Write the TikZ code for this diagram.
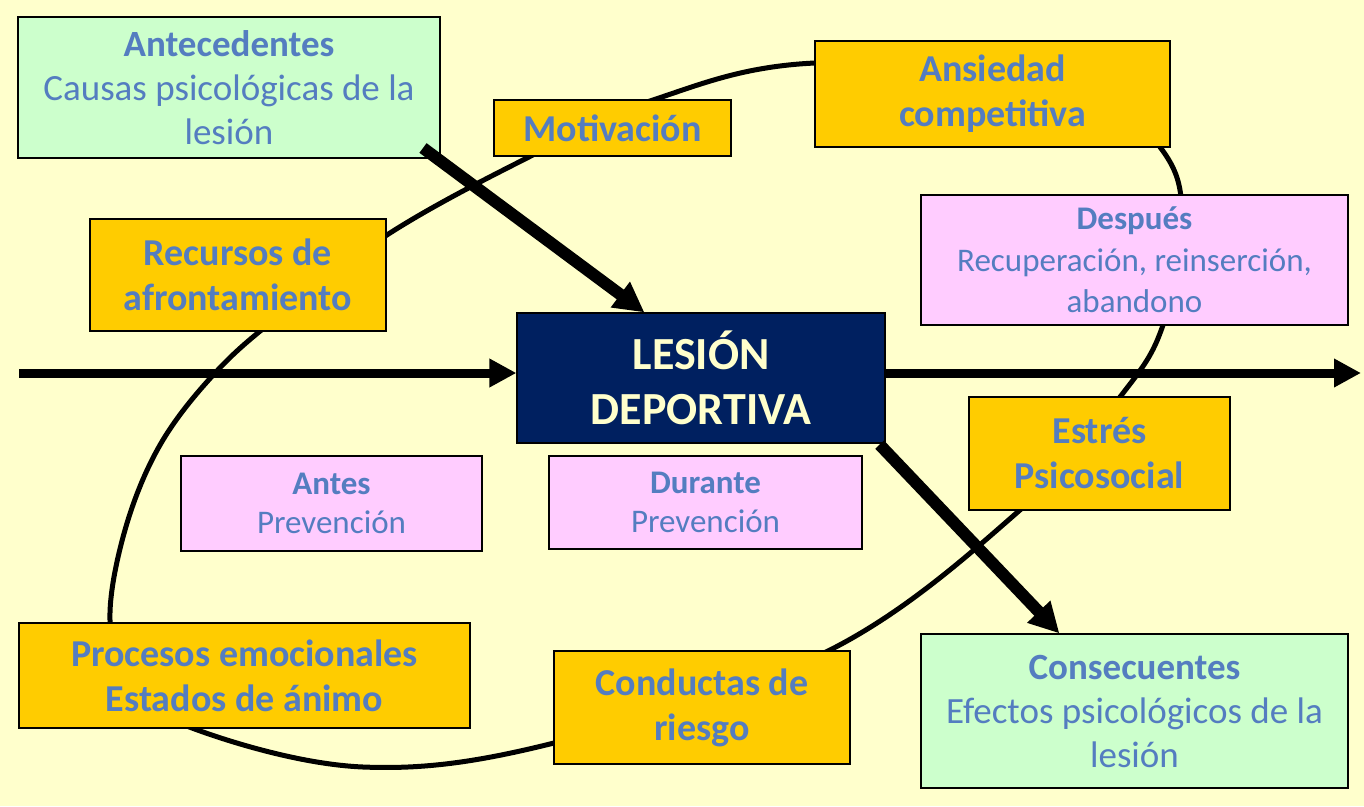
\documentclass[tikz,border=0pt]{standalone}
\usepackage{fontspec}
\setmainfont{Carlito}
\usepackage{tikz}
\usetikzlibrary{arrows.meta, calc}
\definecolor{fondoamarillo}{RGB}{255,255,204}
\definecolor{textoazul}{RGB}{84,125,192}
\definecolor{cajaoro}{RGB}{255,204,0}
\definecolor{cajarosa}{RGB}{255,204,255}
\definecolor{cajaverde}{RGB}{204,255,204}
\definecolor{azulmarino}{RGB}{0,32,96}

\begin{document}
\begin{tikzpicture}[x=1pt, y=-1pt,
    caja/.style={draw, line width=1.2pt, align=center, inner sep=0pt, text=textoazul},
    oro/.style={caja, fill=cajaoro, font=\bfseries\fontsize{38}{45}\selectfont},
    rosa/.style={caja, fill=cajarosa, font=\fontsize{33}{39}\selectfont},
    verde/.style={caja, fill=cajaverde, font=\fontsize{37}{44}\selectfont},
    flecha/.style={-{Triangle[length=30pt,width=30pt]}, line width=12pt}]
    \fill[fondoamarillo] (0,0) rectangle (1364,806);
    \useasboundingbox (0,0) rectangle (1364,806);

    % ciclo
    \draw[line width=5pt] plot[smooth cycle, tension=0.6] coordinates {
        (110,620) (125,530) (160,445) (215,373) (280,315) (390,233) (523,160)
        (653,100) (815,63) (1080,80) (1160,147) (1182,215) (1163,325) (1120,397)
        (1020,510) (828,651) (554,743) (363,767) (192,728) (130,680)};

    \node[verde, minimum width=422pt, minimum height=141pt] (ante) at (229,87.5)
        {\textbf{Antecedentes}\\Causas psicológicas de la\\lesión};
    \node[oro, minimum width=237pt, minimum height=56pt] (motiv) at (612.5,128) {Motivación};
    \node[oro, minimum width=355pt, minimum height=106pt] (ansied) at (992.5,94) {Ansiedad\\competitiva};
    \node[oro, minimum width=296pt, minimum height=112pt] (recursos) at (238,275) {Recursos de\\afrontamiento};
    \node[rosa, minimum width=427pt, minimum height=130pt, font=\fontsize{33}{41.5}\selectfont] (despues) at (1134.5,260)
        {\textbf{Después}\\Recuperación, reinserción,\\abandono};
    \node[caja, fill=azulmarino, text=fondoamarillo, minimum width=368pt, minimum height=130pt,
        font=\bfseries\fontsize{46}{55}\selectfont] (lesion) at (701,378) {LESIÓN\\DEPORTIVA};
    \node[oro, minimum width=261pt, minimum height=113pt] (estres) at (1099.5,453.5) {Estrés\\Psicosocial};
    \node[rosa, minimum width=301pt, minimum height=95pt] (antes) at (331.5,503.5) {\textbf{Antes}\\Prevención};
    \node[rosa, minimum width=313pt, minimum height=93pt] (durante) at (705.5,502.5) {\textbf{Durante}\\Prevención};
    \node[oro, minimum width=451pt, minimum height=105pt] (procesos) at (244.5,675.5) {Procesos emocionales\\Estados de ánimo};
    \node[oro, minimum width=296pt, minimum height=113pt] (conductas) at (702,707.5) {Conductas de\\riesgo};
    \node[verde, minimum width=427pt, minimum height=154pt] (consec) at (1134.5,711)
        {\textbf{Consecuentes}\\Efectos psicológicos de la\\lesión};

    % eje temporal
    \coordinate (inicio) at (19,373);
    \coordinate (fin) at (1361,373);
    \coordinate (salida) at (423,148);
    \draw[-{Triangle[length=27pt,width=27pt]}, line width=9pt] (inicio) -- (inicio -| lesion.west);
    \draw[-{Triangle[length=27pt,width=27pt]}, line width=9pt] (inicio -| lesion.east) -- (fin);
    \draw[flecha] (salida) -- ($(lesion.north west)+(128,0)$);
    \draw[flecha] ($(lesion.south east)+(-6,1)$) -- ($(consec.north west)+(139,0)$);
\end{tikzpicture}
\end{document}
